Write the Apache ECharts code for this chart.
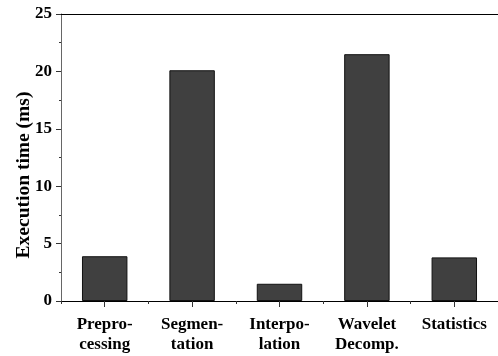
<!DOCTYPE html>
<html>
<head>
<meta charset="utf-8">
<script src="https://cdn.jsdelivr.net/npm/echarts@6/dist/echarts.min.js"></script>
<style>
  html, body { margin: 0; padding: 0; background: #fff; }
  #chart { width: 498px; height: 356px; }
</style>
</head>
<body>
<div id="chart"></div>
<script>
// Per-stage execution time of the processing pipeline
const stages = ['Prepro-\ncessing', 'Segmen-\ntation', 'Interpo-\nlation', 'Wavelet\nDecomp.', 'Statistics'];
const execTimeMs = [3.9, 20.1, 1.5, 21.5, 3.8];
const yTicks = [0, 5, 10, 15, 20, 25];
const yTitle = 'Execution time (ms)';

const FONT = "'Liberation Serif', 'Times New Roman', serif";

const chart = echarts.init(document.getElementById('chart'), null, { renderer: 'canvas' });

chart.setOption({
  animation: false,
  backgroundColor: '#fff',
  grid: { left: 61, right: -4, top: 14, bottom: 55, containLabel: false },
  graphic: [{
    // y-axis title, rotated
    type: 'text',
    x: 24,
    y: 175,
    rotation: Math.PI / 2,
    style: {
      text: yTitle,
      fontFamily: FONT, fontWeight: 'bold', fontSize: 19.5, fill: '#000',
      textAlign: 'center', textVerticalAlign: 'middle'
    }
  }],
  xAxis: [
    {
      // labelled axis with ticks under each bar
      type: 'category',
      data: stages,
      position: 'bottom',
      axisLine: { show: true, lineStyle: { color: '#000', width: 1 } },
      axisTick: { show: true, alignWithLabel: true, length: 6, lineStyle: { color: '#333' } },
      axisLabel: {
        show: true, margin: 14, fontFamily: FONT, fontWeight: 'bold', fontSize: 17,
        color: '#000', lineHeight: 20, align: 'center', interval: 0
      },
      splitLine: { show: false }
    },
    {
      // short ticks at category boundaries
      type: 'category',
      data: stages,
      position: 'bottom',
      axisLine: { show: false },
      axisTick: { show: true, length: 3, lineStyle: { color: '#333' } },
      axisLabel: { show: false },
      splitLine: { show: false }
    },
    {
      // top frame line
      type: 'category',
      data: stages,
      position: 'top',
      axisLine: { show: true, lineStyle: { color: '#000', width: 1 } },
      axisTick: { show: false },
      axisLabel: { show: false },
      splitLine: { show: false }
    }
  ],
  yAxis: {
    type: 'value',
    min: yTicks[0],
    max: yTicks[yTicks.length - 1],
    interval: 5,
    axisLine: { show: true, lineStyle: { color: '#666', width: 1 } },
    axisTick: { show: true, length: 5, lineStyle: { color: '#333' } },
    minorTick: { show: true, splitNumber: 2, length: 2, lineStyle: { color: '#333' } },
    axisLabel: { margin: 9, fontFamily: FONT, fontWeight: 'bold', fontSize: 17, color: '#000' },
    splitLine: { show: false }
  },
  series: [{
    type: 'bar',
    xAxisIndex: 0,
    data: execTimeMs,
    barWidth: '52%',
    itemStyle: { color: '#404040', borderColor: '#111', borderWidth: 1 }
  }]
});
</script>
</body>
</html>
